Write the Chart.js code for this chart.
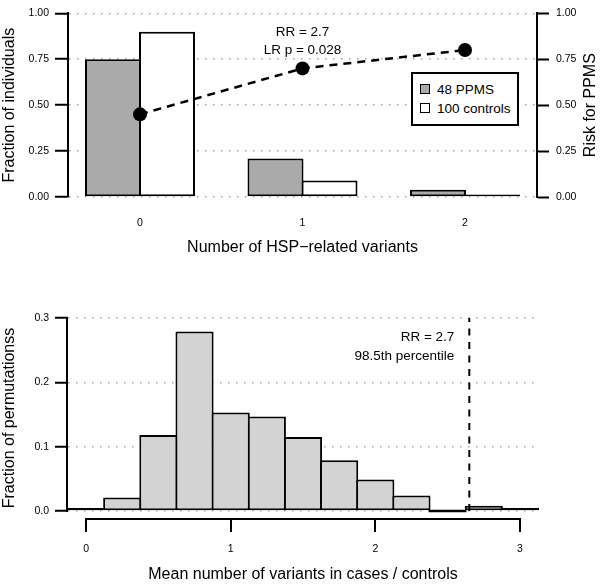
<!DOCTYPE html>
<html><head><meta charset="utf-8">
<script src="https://cdn.jsdelivr.net/npm/chart.js@4"></script>
<style>
html,body{margin:0;padding:0;background:#fff;}
#wrap{position:relative;width:600px;height:584px;overflow:hidden;font-family:'Liberation Sans',Arial,Helvetica,sans-serif;}
canvas{position:absolute;left:0;}
#c1{top:0}
#c2{top:260px}
#legend{position:absolute;left:411px;top:72px;width:104px;height:50px;border:2px solid #000;background:#fff;font-size:13.5px;color:#000;}
.li{position:absolute;left:7px;height:16px;line-height:16px;white-space:nowrap;}
.sw{display:inline-block;box-sizing:border-box;width:10px;height:10px;border:1.5px solid #000;vertical-align:middle;margin-right:7px;position:relative;top:-1px}
</style></head>
<body><div id="wrap"><canvas id="c1" width="600" height="260"></canvas><canvas id="c2" width="600" height="324"></canvas><div id="legend"></div></div>
<script>
// ---------- data ----------
const variantCounts = ['0', '1', '2'];
const seriesLabels = ['48 PPMS', '100 controls'];
const ppmsFraction = [0.75, 0.21, 0.04];
const controlFraction = [0.90, 0.09, 0.01];
const riskPPMS = [0.45, 0.70, 0.80];
const topYTicks = [0, 0.25, 0.5, 0.75, 1];
const topNotes = ['RR = 2.7', 'LR p = 0.028'];

const binCenters = [0, 0.25, 0.5, 0.75, 1, 1.25, 1.5, 1.75, 2, 2.25, 2.5, 2.75, 3];
const permFraction = [0.001, 0.021, 0.118, 0.279, 0.153, 0.147, 0.115, 0.079, 0.049, 0.024, 0, 0.008, 0.003];
const bottomXTicks = [0, 1, 2, 3];
const bottomYTicks = [0, 0.1, 0.2, 0.3];
const observedRR = 2.65;
const bottomNotes = ['RR = 2.7', '98.5th percentile'];

// ---------- styles ----------
const FONT = "'Liberation Sans', Arial, Helvetica, sans-serif";
Chart.defaults.font.family = FONT;
Chart.defaults.color = '#000';
Chart.defaults.animation = false;
const GRID = '#a3a3a3';
const GRAY = '#aaaaaa';
const LIGHT = '#d3d3d3';
const seriesColors = [GRAY, '#ffffff'];

// legend (HTML, built from series)
const leg = document.getElementById('legend');
seriesLabels.forEach((lab, i) => {
  const d = document.createElement('div');
  d.className = 'li';
  d.style.top = (8 + i * 19) + 'px';
  d.innerHTML = '<span class="sw" style="background:' + seriesColors[i] + '"></span>';
  d.appendChild(document.createTextNode(lab));
  leg.appendChild(d);
});

const tickOpts = { font: { size: 10.5 }, color: '#000' };

// ---------- top chart ----------
const topPlugin = {
  id: 'topNotes',
  afterDraw(chart) {
    const { ctx, chartArea: a, scales: { x } } = chart;
    ctx.save();
    ctx.fillStyle = '#000';
    ctx.font = '13.5px ' + FONT;
    ctx.textAlign = 'center';
    ctx.textBaseline = 'middle';
    const cx = x.getPixelForValue(1);
    ctx.fillText(topNotes[0], cx, a.top + 19);
    ctx.fillText(topNotes[1], cx, a.top + 37);
    // right axis title, reading bottom-to-top
    ctx.font = '16px ' + FONT;
    ctx.translate(591, (a.top + a.bottom) / 2);
    ctx.rotate(-Math.PI / 2);
    ctx.fillText('Risk for PPMS', 0, 0);
    ctx.restore();
  }
};

new Chart(document.getElementById('c1'), {
  type: 'bar',
  data: {
    datasets: [
      {
        type: 'line', label: 'Risk for PPMS',
        data: riskPPMS.map((v, i) => ({ x: i, y: v })),
        yAxisID: 'y2', borderColor: '#000', borderWidth: 2.5, borderDash: [8, 6],
        pointRadius: 7, pointBackgroundColor: '#000', pointBorderWidth: 0, order: 0
      },
      {
        label: seriesLabels[0],
        data: ppmsFraction.map((v, i) => ({ x: i, y: v })),
        backgroundColor: seriesColors[0], borderColor: '#000', borderWidth: 2, borderSkipped: false,
        categoryPercentage: 0.6646, barPercentage: 1.037, order: 1
      },
      {
        label: seriesLabels[1],
        data: controlFraction.map((v, i) => ({ x: i, y: v })),
        backgroundColor: seriesColors[1], borderColor: '#000', borderWidth: 2, borderSkipped: false,
        categoryPercentage: 0.6646, barPercentage: 1.037, minBarLength: 2.5, order: 2
      }
    ]
  },
  options: {
    responsive: false, animation: false,
    layout: { autoPadding: false, padding: { top: 5, left: 0, right: 0, bottom: 0 } },
    plugins: { legend: { display: false }, tooltip: { enabled: false } },
    scales: {
      x: {
        type: 'linear', min: -0.443, max: 2.443, bounds: 'data', offset: false,
        afterBuildTicks: s => { s.ticks = variantCounts.map((c, i) => ({ value: i })); },
        ticks: { ...tickOpts, callback: v => variantCounts[v] ?? '', padding: 20, maxRotation: 0, autoSkip: false },
        grid: { display: false, drawTicks: false, offset: false },
        border: { display: false },
        title: { display: true, text: 'Number of HSP−related variants', font: { size: 16 }, color: '#000', padding: { top: 0, bottom: 3 } },
        afterFit: s => { s.height = 63; }
      },
      y: {
        position: 'left', min: 0, max: 1,
        afterBuildTicks: s => { s.ticks = topYTicks.map(v => ({ value: v })); },
        ticks: { ...tickOpts, callback: v => v.toFixed(2), padding: 6 },
        grid: { color: GRID, lineWidth: 1.5, tickColor: '#000', tickWidth: 2, tickLength: 13, tickBorderDash: [] },
        border: { display: true, color: '#000', width: 2, dash: [1.5, 6.5] },
        title: { display: true, text: 'Fraction of individuals', font: { size: 16 }, color: '#000', padding: { top: 0, bottom: 0 } },
        afterFit: s => { s.width = 68; }
      },
      y2: {
        position: 'right', min: 0, max: 1,
        afterBuildTicks: s => { s.ticks = topYTicks.map(v => ({ value: v })); },
        ticks: { ...tickOpts, callback: v => v.toFixed(2), padding: 7 },
        grid: { drawOnChartArea: false, tickColor: '#000', tickWidth: 2, tickLength: 12, tickBorderDash: [] },
        border: { display: true, color: '#000', width: 2 },
        afterFit: s => { s.width = 63; }
      }
    }
  },
  plugins: [topPlugin]
});

// ---------- bottom chart ----------
const bottomPlugin = {
  id: 'bottomAxes',
  afterDraw(chart) {
    const { ctx, chartArea: a, scales: { x, y } } = chart;
    ctx.save();
    ctx.strokeStyle = '#000';
    ctx.lineWidth = 2;
    ctx.setLineDash([]);
    // y axis from 0 to top tick
    ctx.beginPath();
    ctx.moveTo(a.left - 1, y.getPixelForValue(bottomYTicks[0]) + 1);
    ctx.lineTo(a.left - 1, y.getPixelForValue(bottomYTicks[bottomYTicks.length - 1]) - 1);
    ctx.stroke();
    // R-style detached x axis
    ctx.beginPath();
    ctx.moveTo(x.getPixelForValue(bottomXTicks[0]) - 1, a.bottom + 1);
    ctx.lineTo(x.getPixelForValue(bottomXTicks[bottomXTicks.length - 1]) + 1, a.bottom + 1);
    ctx.stroke();
    // notes
    ctx.fillStyle = '#000';
    ctx.font = '13.5px ' + FONT;
    ctx.textAlign = 'right';
    ctx.textBaseline = 'middle';
    const rx = x.getPixelForValue(observedRR) - 15;
    ctx.fillText(bottomNotes[0], rx, a.top + 19);
    ctx.fillText(bottomNotes[1], rx, a.top + 38);
    ctx.restore();
  }
};

new Chart(document.getElementById('c2'), {
  type: 'bar',
  data: {
    datasets: [
      {
        type: 'line', label: 'observed',
        data: [{ x: observedRR, y: 0 }, { x: observedRR, y: 0.3 }],
        borderColor: '#000', borderWidth: 2, borderDash: [7, 6.5], pointRadius: 0, order: 0
      },
      {
        label: 'permutations',
        data: binCenters.map((c, i) => ({ x: c, y: permFraction[i] })),
        backgroundColor: LIGHT, borderColor: '#000', borderWidth: 2, borderSkipped: false,
        categoryPercentage: 1, barPercentage: 1.055, minBarLength: 3, clip: false, order: 1
      }
    ]
  },
  options: {
    responsive: false, animation: false,
    layout: { autoPadding: false, padding: { top: 58, left: 0, right: 62, bottom: 0 } },
    plugins: { legend: { display: false }, tooltip: { enabled: false } },
    scales: {
      x: {
        type: 'linear', min: -0.125, max: 3.125, bounds: 'data', offset: false,
        afterBuildTicks: s => { s.ticks = bottomXTicks.map(v => ({ value: v })); },
        ticks: { ...tickOpts, callback: v => String(v), padding: 11, maxRotation: 0, autoSkip: false },
        grid: { drawOnChartArea: false, drawTicks: true, offset: false, tickLength: 14, tickColor: '#000', tickWidth: 2, lineWidth: 2, tickBorderDash: [] },
        border: { display: false },
        title: { display: true, text: 'Mean number of variants in cases / controls', font: { size: 16 }, color: '#000', padding: { top: 0, bottom: 0 } },
        afterFit: s => { s.height = 66; }
      },
      y: {
        position: 'left', min: -0.0109, max: 0.3,
        afterBuildTicks: s => { s.ticks = bottomYTicks.map(v => ({ value: v })); },
        ticks: { ...tickOpts, callback: v => v.toFixed(1), padding: 6 },
        grid: { color: GRID, lineWidth: 1.5, tickColor: '#000', tickWidth: 2, tickLength: 13, tickBorderDash: [] },
        border: { display: false, dash: [1.5, 6.5] },
        title: { display: true, text: 'Fraction of permutationss', font: { size: 16 }, color: '#000', padding: { top: 0, bottom: 0 } },
        afterFit: s => { s.width = 68; }
      }
    }
  },
  plugins: [bottomPlugin]
});
</script>
</body></html>
